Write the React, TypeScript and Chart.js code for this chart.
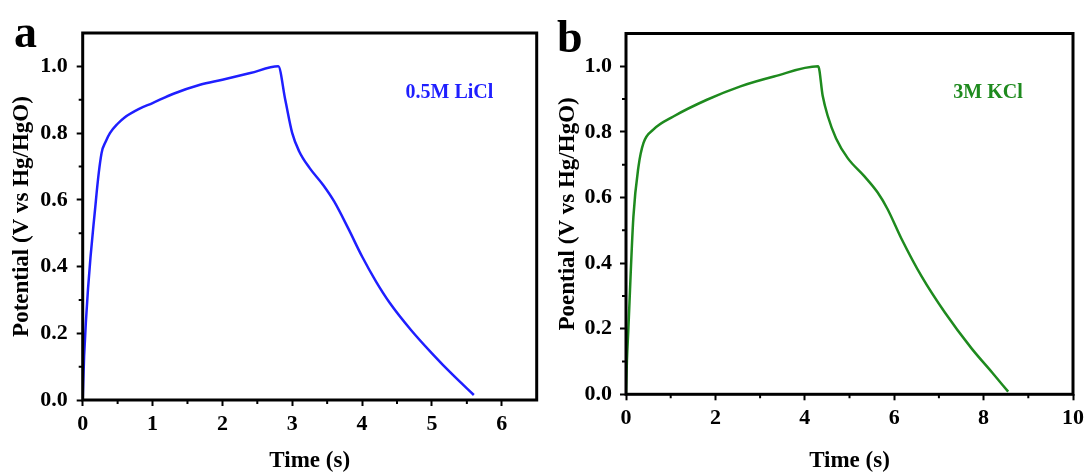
import React, { useEffect, useRef } from 'react';
import { Chart, registerables } from 'chart.js';

Chart.register(...registerables);

// ---------- Data ----------
const timeLiCl = [0, 0.02, 0.19, 0.27, 0.33, 0.39, 0.5, 0.6, 0.8, 1.0, 1.3, 1.68, 2.0, 2.4, 2.8, 2.9, 3.0, 3.1, 3.25, 3.44, 3.6, 3.8, 4.0, 4.2, 4.4, 4.7, 5.0, 5.3, 5.6];
const potLiCl = [0, 0.13, 0.6, 0.74, 0.775, 0.8, 0.828, 0.847, 0.872, 0.89, 0.918, 0.945, 0.96, 0.98, 1.0, 0.9, 0.8, 0.745, 0.695, 0.645, 0.595, 0.515, 0.43, 0.355, 0.29, 0.21, 0.14, 0.075, 0.015];

const timeKCl = [0, 0.02, 0.05, 0.165, 0.28, 0.39, 0.61, 1.06, 1.81, 2.56, 3.31, 4.3, 4.4, 4.51, 4.7, 4.96, 5.33, 5.63, 5.85, 6.16, 6.61, 7.13, 7.73, 8.2, 8.55];
const potKCl = [0, 0.1, 0.19, 0.54, 0.695, 0.766, 0.807, 0.847, 0.898, 0.939, 0.969, 1.0, 0.91, 0.85, 0.78, 0.72, 0.665, 0.615, 0.565, 0.475, 0.36, 0.25, 0.14, 0.065, 0.008];

const yTicksMinor = [0.1, 0.3, 0.5, 0.7, 0.9];
const xMinorLiCl = [0.5, 1.5, 2.5, 3.5, 4.5, 5.5];
const xMinorKCl = [1, 3, 5, 7, 9];

const labelLiCl = '0.5M LiCl';
const labelKCl = '3M KCl';
const colorLiCl = '#1f1fff';
const colorKCl = '#1e8a1e';

const FONT = 'Liberation Serif';

type PanelCfg = {
  letter: string;
  letterX: number;
  letterY: number;
  label: string;
  labelAt: [number, number];
  color: string;
  times: number[];
  pots: number[];
  xMax: number;
  xStep: number;
  xMinor: number[];
  yTitle: string;
  yWidth: number;
  xHeight: number;
  padding: { left: number; top: number; right: number; bottom: number };
  yTitlePad: number;
  yTickPad: number;
  width: number;
  left: number;
};

function decoPlugin(cfg: PanelCfg) {
  return {
    id: 'deco',
    afterDraw(chart: any) {
      const { ctx, chartArea: a, scales } = chart;
      ctx.save();
      ctx.strokeStyle = '#000';
      ctx.lineWidth = 2;
      ctx.beginPath();
      for (const v of cfg.xMinor) {
        const px = scales.x.getPixelForValue(v);
        ctx.moveTo(px, a.bottom);
        ctx.lineTo(px, a.bottom + 4);
      }
      for (const v of yTicksMinor) {
        const py = scales.y.getPixelForValue(v);
        ctx.moveTo(a.left, py);
        ctx.lineTo(a.left - 4, py);
      }
      ctx.stroke();
      ctx.lineWidth = 3;
      ctx.strokeRect(a.left, a.top, a.right - a.left, a.bottom - a.top);

      ctx.fillStyle = '#000';
      ctx.font = `bold 46px "${FONT}"`;
      ctx.textAlign = 'left';
      ctx.textBaseline = 'alphabetic';
      ctx.fillText(cfg.letter, cfg.letterX, cfg.letterY);

      ctx.fillStyle = cfg.color;
      ctx.font = `bold 20px "${FONT}"`;
      ctx.textAlign = 'center';
      ctx.textBaseline = 'middle';
      ctx.fillText(
        cfg.label,
        scales.x.getPixelForValue(cfg.labelAt[0]),
        scales.y.getPixelForValue(cfg.labelAt[1])
      );
      ctx.restore();
    },
  };
}

function Panel({ cfg }: { cfg: PanelCfg }) {
  const ref = useRef<HTMLCanvasElement | null>(null);
  useEffect(() => {
    if (!ref.current) return;
    const tickFont = { family: FONT, size: 22, weight: 'bold' as const };
    const titleFont = { family: FONT, size: 23, weight: 'bold' as const };
    const chart = new Chart(ref.current, {
      type: 'line',
      data: {
        datasets: [
          {
            data: cfg.times.map((t, i) => ({ x: t, y: cfg.pots[i] })),
            borderColor: cfg.color,
            borderWidth: 2.5,
            pointRadius: 0,
            cubicInterpolationMode: 'monotone',
            fill: false,
          },
        ],
      },
      options: {
        animation: false,
        responsive: false,
        layout: { padding: cfg.padding },
        plugins: { legend: { display: false }, tooltip: { enabled: false } },
        scales: {
          x: {
            type: 'linear',
            position: 'bottom',
            min: 0,
            max: cfg.xMax,
            border: { display: false },
            grid: { drawOnChartArea: false, drawTicks: true, tickLength: 6, tickWidth: 2, tickColor: '#000' },
            ticks: {
              stepSize: cfg.xStep,
              includeBounds: false,
              maxRotation: 0,
              autoSkip: false,
              padding: 5,
              color: '#000',
              font: tickFont,
              callback: (v: any) => String(Math.round(Number(v) * 10) / 10),
            },
            title: { display: true, text: 'Time (s)', color: '#000', font: titleFont, padding: { top: 0, bottom: 0 } },
            afterFit: (s: any) => {
              s.height = cfg.xHeight;
            },
          },
          y: {
            type: 'linear',
            min: 0,
            max: 1.1,
            border: { display: false },
            grid: { drawOnChartArea: false, drawTicks: true, tickLength: 6, tickWidth: 2, tickColor: '#000' },
            ticks: {
              stepSize: 0.2,
              includeBounds: false,
              padding: cfg.yTickPad,
              color: '#000',
              font: tickFont,
              callback: (v: any) => Number(v).toFixed(1),
            },
            title: { display: true, text: cfg.yTitle, color: '#000', font: titleFont, padding: { top: cfg.yTitlePad, bottom: 0 } },
            afterFit: (s: any) => {
              s.width = cfg.yWidth;
            },
          },
        },
      },
      plugins: [decoPlugin(cfg)],
    } as any);
    return () => chart.destroy();
  }, [cfg]);
  return (
    <canvas
      ref={ref}
      width={cfg.width}
      height={475}
      style={{ position: 'absolute', left: cfg.left, top: 0, width: cfg.width, height: 475 }}
    />
  );
}

const panelA: PanelCfg = {
  letter: 'a',
  letterX: 14,
  letterY: 47,
  label: labelLiCl,
  labelAt: [5.25, 0.92],
  color: colorLiCl,
  times: timeLiCl,
  pots: potLiCl,
  xMax: 6.5,
  xStep: 1,
  xMinor: xMinorLiCl,
  yTitle: 'Potential (V vs Hg/HgO)',
  yWidth: 82.7,
  xHeight: 75,
  padding: { left: 0, top: 33, right: 23.3, bottom: 0 },
  yTitlePad: 8.7,
  yTickPad: 9,
  width: 560,
  left: 0,
};

const panelB: PanelCfg = {
  letter: 'b',
  letterX: 12,
  letterY: 51.5,
  label: labelKCl,
  labelAt: [8.1, 0.92],
  color: colorKCl,
  times: timeKCl,
  pots: potKCl,
  xMax: 10,
  xStep: 2,
  xMinor: xMinorKCl,
  yTitle: 'Poential (V vs Hg/HgO)',
  yWidth: 81,
  xHeight: 80.7,
  padding: { left: 0, top: 33.5, right: 16, bottom: 0 },
  yTitlePad: 9.2,
  yTickPad: 8,
  width: 544,
  left: 545,
};

export default function App() {
  return (
    <div style={{ position: 'absolute', left: 0, top: 0, width: 1089, height: 475, background: '#fff' }}>
      <Panel cfg={panelA} />
      <Panel cfg={panelB} />
    </div>
  );
}
